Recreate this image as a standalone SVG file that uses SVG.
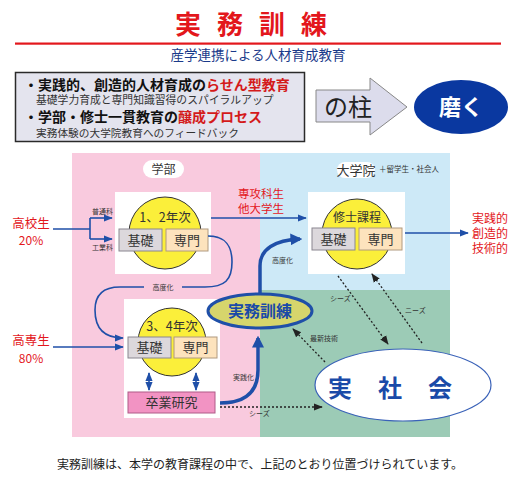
<svg xmlns="http://www.w3.org/2000/svg" width="525" height="481" viewBox="0 0 525 481">
<defs>
<style>
.jp{font-family:"Noto Sans CJK JP","Noto Sans",sans-serif}
.sf{font-family:"Liberation Serif","Noto Sans CJK JP",serif}
.red{fill:#e3171c}
.small{font-size:7px;fill:#333}
.wbox{fill:#fff}
.circ{fill:#fbef3a;stroke:#333;stroke-width:1}
.kiso{fill:#dcd8dc;stroke:#8a8690;stroke-width:1}
.senmon{fill:#fde3bd;stroke:#b09a80;stroke-width:1}
.lbl{font-size:13px;fill:#333;text-anchor:middle}
.bl{fill:none;stroke:#1f4fa8;stroke-width:1.6}
.thick{fill:none;stroke:#1f4fa8;stroke-width:3.5}
.dot{fill:none;stroke:#222;stroke-width:1.3;stroke-dasharray:2 2}
</style>
<marker id="ab" viewBox="0 0 10 10" refX="9" refY="5" markerWidth="9" markerHeight="9" markerUnits="userSpaceOnUse" orient="auto"><path d="M0,1 L10,5 L0,9 Z" fill="#1f4fa8"/></marker>
<marker id="abs" viewBox="0 0 10 10" refX="1" refY="5" markerWidth="9" markerHeight="9" markerUnits="userSpaceOnUse" orient="auto"><path d="M10,1 L0,5 L10,9 Z" fill="#1f4fa8"/></marker>
<marker id="abig" viewBox="0 0 10 10" refX="8" refY="5" markerWidth="12" markerHeight="12" markerUnits="userSpaceOnUse" orient="auto"><path d="M0,0 L10,5 L0,10 Z" fill="#1f4fa8"/></marker>
<marker id="ak" viewBox="0 0 10 10" refX="9" refY="5" markerWidth="9" markerHeight="9" markerUnits="userSpaceOnUse" orient="auto"><path d="M0,1 L10,5 L0,9 Z" fill="#222"/></marker>
</defs>
<rect width="525" height="481" fill="#fff"/>

<!-- Title -->
<g id="title">
<text x="259" y="34" class="jp red" font-size="26" font-weight="bold" text-anchor="middle" letter-spacing="16">実務訓練</text>
<rect x="15" y="42.5" width="486" height="2.2" fill="#e3171c"/>
<text x="258" y="60" class="sf" font-size="13.5" fill="#1a3a8a" text-anchor="middle">産学連携による人材育成教育</text>
</g>

<!-- Top box -->
<g id="pillars">
<rect x="15.5" y="72.5" width="289" height="69" fill="#e4e4ee" stroke="#2a2a2a" stroke-width="1.5"/>
<text x="24" y="89.5" class="jp" font-size="14" font-weight="bold" fill="#111">・実践的、創造的人材育成の<tspan fill="#d41a1a">らせん型教育</tspan></text>
<text x="36" y="104" class="jp" font-size="10.8" fill="#333">基礎学力育成と専門知識習得のスパイラルアップ</text>
<text x="24" y="122" class="jp" font-size="14" font-weight="bold" fill="#111">・学部・修士一貫教育の<tspan fill="#d41a1a">醸成プロセス</tspan></text>
<text x="36" y="136.5" class="jp" font-size="10.7" fill="#333">実務体験の大学院教育へのフィードバック</text>
</g>
<g id="arrow-pillar">
<path d="M316,90 L370,90 L370,78 L407,107 L370,135 L370,122 L316,122 Z" fill="#dcdcec" stroke="#888" stroke-width="1"/>
<text x="324" y="116" class="jp" font-size="24" fill="#222">の柱</text>
</g>
<g id="migaku">
<ellipse cx="461" cy="107" rx="47" ry="27" fill="#0a38a0"/>
<text x="461" y="115" class="jp" font-size="22" font-weight="bold" fill="#fff" text-anchor="middle">磨く</text>
</g>

<!-- Regions -->
<g id="regions">
<rect x="72" y="153" width="188" height="284" fill="#f9cade"/>
<rect x="260" y="153" width="190" height="137" fill="#cde9f7"/>
<rect x="260" y="290" width="190" height="147" fill="#9ccbb6"/>
</g>

<g id="gakubu-label">
<rect x="143" y="160" width="41" height="18" rx="9" fill="#fff"/>
<text x="163.5" y="173.5" class="jp" font-size="12" fill="#333" text-anchor="middle">学部</text>
</g>
<g id="daigakuin-label">
<rect x="337" y="162" width="38" height="16" rx="8" fill="#fff"/>
<text x="356" y="175" class="jp" font-size="13" fill="#333" text-anchor="middle">大学院</text>
<text x="379" y="172" class="jp" font-size="7.5" fill="#333">＋留学生・社会人</text>
</g>

<!-- Left labels -->
<g id="koukousei">
<text x="31" y="228" class="jp red" font-size="12.5" text-anchor="middle">高校生</text>
<text x="31" y="245" class="jp red" font-size="12" text-anchor="middle">20%</text>
</g>
<g id="kousensei">
<text x="31" y="345" class="jp red" font-size="12.5" text-anchor="middle">高専生</text>
<text x="31" y="363" class="jp red" font-size="12" text-anchor="middle">80%</text>
</g>
<g id="senkou">
<text x="238" y="198" class="jp red" font-size="11.5">専攻科生</text>
<text x="238" y="213" class="jp red" font-size="11.5">他大学生</text>
</g>
<g id="jissen-out">
<text x="472" y="223" class="jp red" font-size="12">実践的</text>
<text x="472" y="238" class="jp red" font-size="12">創造的</text>
<text x="472" y="253" class="jp red" font-size="12">技術的</text>
</g>

<!-- Node: 1,2年次 -->
<g id="node-12">
<rect x="115" y="192" width="96" height="82" class="wbox"/>
<circle cx="165" cy="233" r="36" class="circ"/>
<text x="165" y="222" class="jp" font-size="12.5" fill="#333" text-anchor="middle">1、2年次</text>
<rect x="119" y="229" width="43" height="22" class="kiso"/>
<text x="140.5" y="245" class="lbl jp">基礎</text>
<rect x="166" y="229" width="42" height="22" class="senmon"/>
<text x="187" y="245" class="lbl jp">専門</text>
</g>

<!-- Node: 修士課程 -->
<g id="node-master">
<rect x="308" y="192" width="97" height="82" class="wbox"/>
<circle cx="357" cy="234" r="35" class="circ"/>
<text x="357" y="222" class="jp" font-size="12" fill="#333" text-anchor="middle">修士課程</text>
<rect x="312" y="228" width="43" height="22" class="kiso"/>
<text x="333.5" y="244" class="lbl jp">基礎</text>
<rect x="359" y="228" width="43" height="22" class="senmon"/>
<text x="380.5" y="244" class="lbl jp">専門</text>
</g>

<!-- Node: 3,4年次 -->
<g id="node-34">
<rect x="124" y="299" width="96" height="119" class="wbox"/>
<circle cx="172" cy="342" r="34" class="circ"/>
<text x="172" y="331" class="jp" font-size="12.5" fill="#333" text-anchor="middle">3、4年次</text>
<rect x="128" y="337" width="43" height="21" class="kiso"/>
<text x="149.5" y="352" class="lbl jp">基礎</text>
<rect x="174" y="337" width="43" height="21" class="senmon"/>
<text x="195.5" y="352" class="lbl jp">専門</text>
<rect x="128" y="392" width="87" height="21" fill="#f293c3" stroke="#b05a88" stroke-width="1"/>
<text x="171.5" y="407" class="lbl jp">卒業研究</text>
</g>

<!-- Node: 実務訓練 -->
<g id="node-jitsumu">
<ellipse cx="260" cy="311" rx="52" ry="17" fill="#d6d56c" stroke="#1f4fa8" stroke-width="3"/>
<text x="260" y="317" class="jp" font-size="16" font-weight="bold" fill="#1a4aa8" text-anchor="middle">実務訓練</text>
</g>

<!-- Node: 実社会 -->
<g id="node-society">
<ellipse cx="403" cy="385" rx="88" ry="36" fill="#fff" stroke="#3a62b8" stroke-width="1.2"/>
<text x="403" y="397" class="jp" font-size="24" font-weight="bold" fill="#1a4aa8" text-anchor="middle" letter-spacing="26">実社会</text>
</g>

<!-- Connectors -->
<g id="connectors">
<path class="bl" d="M53,229 L90,229 M90,218 L90,239"/>
<path class="bl" d="M90,218 L112,218" marker-end="url(#ab)"/>
<path class="bl" d="M90,239 L112,239" marker-end="url(#ab)"/>
<path class="bl" d="M53,347 L123,347" marker-end="url(#ab)"/>
<path class="bl" d="M208,236 C226,236 232,246 232,262 C232,280 225,287 205,287 L120,287 C102,287 95,296 95,310 C95,328 104,338 123,338" marker-end="url(#ab)"/>
<path class="bl" d="M211,218 L306,218" marker-end="url(#ab)"/>
<path class="bl" d="M405,233 L468,233" marker-end="url(#ab)"/>
<path class="bl" d="M149,373 L149,390" marker-start="url(#abs)" marker-end="url(#ab)"/>
<path class="bl" d="M196,373 L196,390" marker-start="url(#abs)" marker-end="url(#ab)"/>
<path class="thick" d="M260,294 L260,266 C260,249 275,240 300,239" marker-end="url(#abig)"/>
<path class="thick" d="M220,403 C245,403 258,392 258,370 L258,338" marker-end="url(#abig)"/>
<path class="dot" d="M220,407 L322,407" marker-end="url(#ak)"/>
<path class="dot" d="M338,276 L388,344" marker-end="url(#ak)"/>
<path class="dot" d="M422,343 L372,274" marker-end="url(#ak)"/>
<path class="dot" d="M325,362 L293,329" marker-end="url(#ak)"/>
</g>

<!-- Connector labels -->
<g id="connector-labels">
<text x="92" y="214" class="jp small">普通科</text>
<text x="92" y="250" class="jp small">工業科</text>
<rect x="144" y="282" width="38" height="10" fill="#f9cade"/>
<text x="163" y="290" class="jp small" text-anchor="middle">高度化</text>
<text x="272" y="263" class="jp small">高度化</text>
<text x="233" y="380" class="jp small">実践化</text>
<text x="249" y="416" class="jp small">シーズ</text>
<text x="330" y="301" class="jp small">シーズ</text>
<text x="405" y="313" class="jp small">ニーズ</text>
<text x="310" y="341" class="jp small">最新技術</text>
</g>

<!-- Footer -->
<text x="260" y="469" class="sf" font-size="12" fill="#222" text-anchor="middle">実務訓練は、本学の教育課程の中で、上記のとおり位置づけられています。</text>
</svg>
